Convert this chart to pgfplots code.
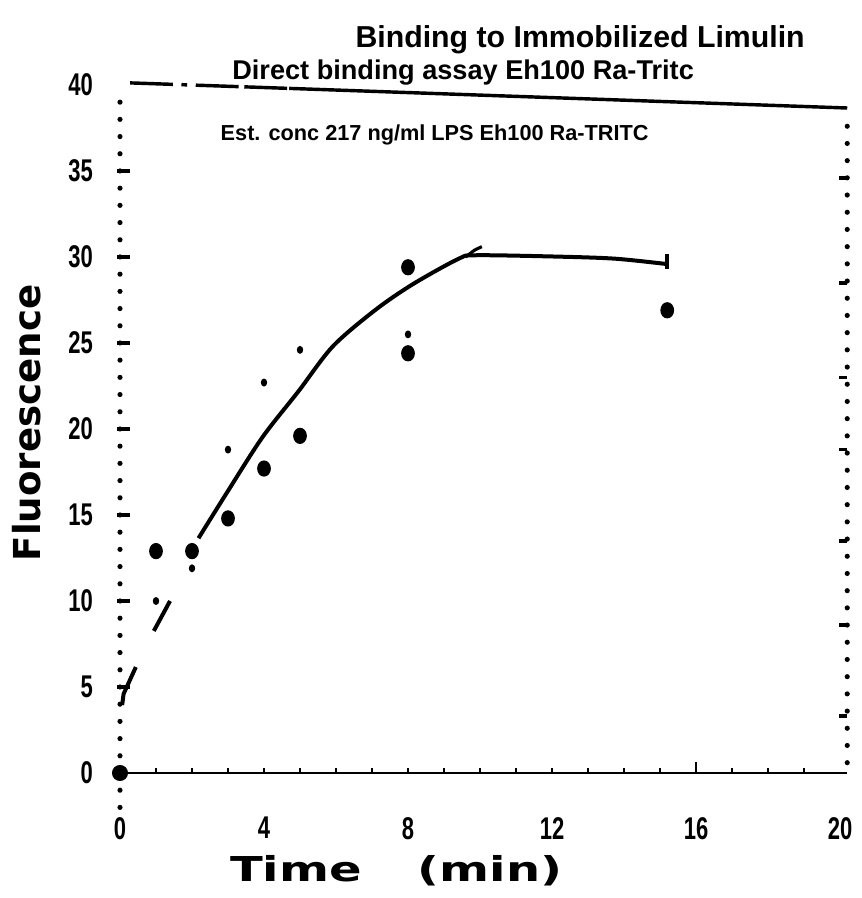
\documentclass[border=0pt]{standalone}
\usepackage{fontspec}
\setmainfont{Liberation Sans}
\newfontfamily\dejab{DejaVu Sans}
\usepackage{graphicx}
\usepackage{pgfplots}
\pgfplotsset{compat=1.18}
\newcommand\sq[1]{\scalebox{0.7}[1]{#1}}

\begin{document}
\begin{tikzpicture}
\begin{axis}[
  scale only axis, width=252.04pt, height=240.84pt,
  xmin=0, xmax=20, ymin=0, ymax=40,
  clip=false,
  axis x line=bottom, axis y line=left,
  axis line style={draw=none,-},
  xtick={0,4,...,20},
  xticklabels={\sq{0},\sq{4},\sq{8},\sq{12},\sq{16},\sq{20}},
  ytick={0,5,...,40},
  yticklabels={\sq{0},\sq{5},\sq{10},\sq{15},\sq{20},\sq{25},\sq{30},\sq{35},\sq{40}},
  major tick length=0pt, minor tick length=0pt,
  tick style={draw=none},
  ticklabel style={font=\fontsize{11}{11}\selectfont\bfseries},
  yticklabel style={xshift=-6pt},
  xticklabel style={yshift=-12pt},
]
% bounding box matching the reference
\path (axis cs:-3.3333,-7.267) rectangle (axis cs:20.472,44.94);

% axis frame lines
\draw[line width=1pt] (axis cs:0,0) -- (axis cs:20.2,0);
\pgfplotsinvokeforeach{1,...,19}{\draw[line width=0.9pt] (axis cs:#1,0) -- ++(0,1.6pt);}
\draw[line width=1pt] (axis cs:16,0) -- ++(0,3.8pt);
\draw[line width=1.8pt, line cap=round, dash pattern=on 0pt off 6.021pt] (axis cs:0,-2) -- (axis cs:0,39.2);
\pgfplotsinvokeforeach{5,10,15,20,25,30,35}{\draw[line width=1.3pt] (axis cs:0,#1) ++(-1pt,0) -- ++(4.5pt,0);}
\draw[line width=1.8pt, line cap=round, dash pattern=on 0pt off 6.021pt] (axis cs:20.2,37.6) -- (axis cs:20.2,0);
\pgfplotsinvokeforeach{34.6,28.5,23,18.8,13.5,8.6,3.3}{\draw[line width=1.3pt] (axis cs:20.2,#1) -- ++(-3pt,0);}
\draw[line width=1.2pt, dash pattern=on 15pt off 3pt on 2pt off 3pt on 15pt off 2pt] (axis cs:0.28,40.12) -- (axis cs:4.7,39.8);
\draw[line width=1.2pt] (axis cs:4.7,39.8) -- (axis cs:20.2,38.66);

% fitted curve (hand drawn)
\addplot[black, line width=1.4pt, smooth, tension=0.5] coordinates {
(2.18,13.65) (2.94,16.2) (3.95,19.5) (4.96,22.2) (5.91,24.8) (7.08,26.9)
(8.12,28.4) (9.41,29.9) (9.9,30.1) (12.17,30.02) (13.75,29.9) (15.14,29.6)
};
\addplot[black, line width=1.1pt] coordinates {(9.6,30.0) (9.85,30.4) (10.05,30.6)};
\addplot[black, line width=1.3pt] coordinates {(15.19,29.3) (15.19,30.2)};
\addplot[black, line width=1.4pt] coordinates {(0.94,8.26) (1.39,10.0)};
\addplot[black, line width=1.4pt] coordinates {(0.06,3.95) (0.1,4.6) (0.44,6.16)};

% large data points
\addplot[only marks, mark=*, mark size=2.2pt, mark options={yscale=1.2}, black] coordinates {
(1,12.9) (2,12.9) (3,14.8) (4,17.7) (5,19.6) (8,29.4) (8,24.4) (15.2,26.9)
};
\addplot[only marks, mark=*, mark size=2.6pt, black] coordinates {(0,0)};
% small data points
\addplot[only marks, mark=*, mark size=0.9pt, mark options={yscale=1.3}, black] coordinates {
(1,10) (2,11.9) (3,18.8) (4,22.7) (5,24.6) (8,25.5)
};

% titles
\node[font=\fontsize{10.6}{11}\selectfont\bfseries] at (axis cs:12.78,42.6) {Binding to Immobilized Limulin};
\node[font=\fontsize{9.5}{10}\selectfont\bfseries] at (axis cs:9.53,40.7) {Direct binding assay Eh100 Ra-Tritc};
\node[font=\fontsize{7.6}{8}\selectfont\bfseries] at (axis cs:8.74,37.1) {Est. conc 217 ng/ml LPS Eh100 Ra-TRITC};

% axis labels
\node[rotate=90, font=\dejab\bfseries\fontsize{13}{13}\selectfont] at (axis cs:-2.58,20.35) {Fluorescence};
\node at (axis cs:7.67,-5.7) {\scalebox{1.4}[1]{\dejab\bfseries\fontsize{12}{12}\selectfont Time\hspace{14pt}(min)}};
\end{axis}
\end{tikzpicture}
\end{document}
